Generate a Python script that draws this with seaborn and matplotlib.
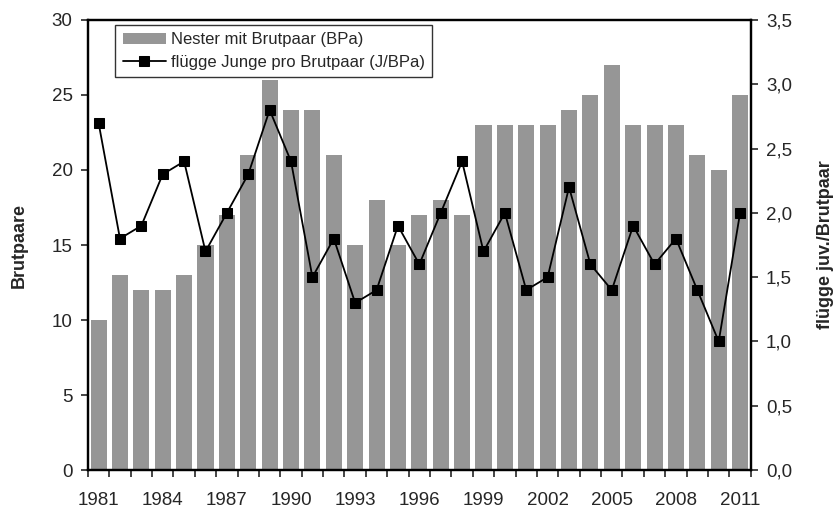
import numpy as np
import pandas as pd
import matplotlib
matplotlib.use('Agg')
import matplotlib.pyplot as plt
import seaborn as sns
from matplotlib.ticker import FuncFormatter, MultipleLocator

years = list(range(1981, 2012))
brutpaare = [10, 13, 12, 12, 13, 15, 17, 21, 26, 24, 24, 21, 15, 18, 15, 17,
             18, 17, 23, 23, 23, 23, 24, 25, 27, 23, 23, 23, 21, 20, 25]
junge_pro_bpa = [2.7, 1.8, 1.9, 2.3, 2.4, 1.7, 2.0, 2.3, 2.8, 2.4, 1.5, 1.8, 1.3, 1.4,
                 1.9, 1.6, 2.0, 2.4, 1.7, 2.0, 1.4, 1.5, 2.2, 1.6, 1.4, 1.9, 1.6, 1.8,
                 1.4, 1.0, 2.0]
label_years = years[::3]

df = pd.DataFrame({'jahr': years, 'bpa': brutpaare, 'jbpa': junge_pro_bpa})

sns.set_style('ticks')
plt.rcParams['font.family'] = ['Liberation Sans', 'DejaVu Sans']
plt.rcParams['axes.linewidth'] = 1.6

fig = plt.figure(figsize=(8.37, 5.11), dpi=100)
ax = fig.add_axes([0.105, 0.080, 0.792, 0.881])

sns.barplot(data=df, x='jahr', y='bpa', native_scale=True, color='#969696',
            saturation=1, width=0.75, linewidth=0, ax=ax,
            label='Nester mit Brutpaar (BPa)')
ax.set_xlim(years[0] - 0.5, years[-1] + 0.5)
ax.set_ylim(0, 30)
ax.set_yticks(range(0, 31, 5))
ax.set_xticks(label_years)
ax.set_xticks([y - 0.5 for y in years] + [years[-1] + 0.5], minor=True)
ax.tick_params(axis='x', which='major', length=0, pad=16, labelsize=13.5)
ax.tick_params(axis='x', which='minor', length=5, width=1.2, direction='out')
ax.tick_params(axis='y', length=5, width=1.2, direction='out', labelsize=13.5, pad=6)
ax.set_xlabel('')
ax.set_ylabel('Brutpaare', fontsize=13, fontweight='bold', labelpad=17)
for s in ax.spines.values():
    s.set_visible(True)
    s.set_color('black')

ax2 = ax.twinx()
sns.lineplot(data=df, x='jahr', y='jbpa', color='black', lw=1.3, marker='s',
             markersize=7, markeredgecolor='black', ax=ax2,
             label='flügge Junge pro Brutpaar (J/BPa)')
ax2.set_ylim(0, 3.5)
ax2.yaxis.set_major_locator(MultipleLocator(0.5))
ax2.yaxis.set_major_formatter(FuncFormatter(lambda v, p: f'{v:.1f}'.replace('.', ',')))
ax2.tick_params(axis='y', length=5, width=1.2, direction='out', labelsize=13.5, pad=6)
ax2.set_ylabel('flügge juv./Brutpaar', fontsize=13, fontweight='bold', labelpad=18)
ax2.set_xlabel('')
for s in ax2.spines.values():
    s.set_color('black')

h1, l1 = ax.get_legend_handles_labels()
h2, l2 = ax2.get_legend_handles_labels()
for a in (ax, ax2):
    if a.get_legend():
        a.get_legend().remove()
leg = ax2.legend(h1 + h2, l1 + l2, loc='upper left', bbox_to_anchor=(0.041, 0.989),
                 fontsize=12, frameon=True, fancybox=False, edgecolor='black',
                 borderpad=0.45, labelspacing=0.45, handlelength=2.6, handletextpad=0.3,
                 borderaxespad=0)
leg.get_frame().set_linewidth(1.0)

fig.savefig('out.png', dpi=100)
